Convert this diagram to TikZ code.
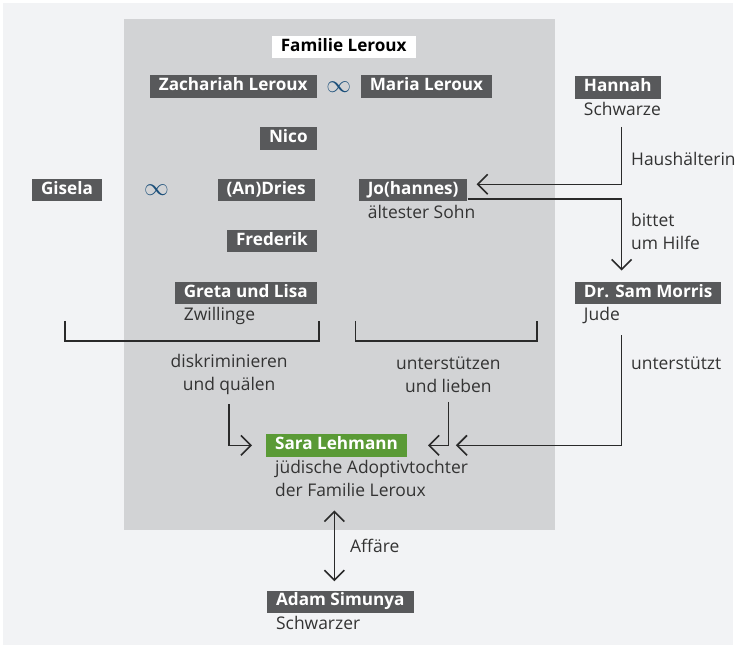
\documentclass[tikz,border=0pt]{standalone}
\usepackage{fontspec}
\setmainfont{Open Sans}
\usetikzlibrary{calc,arrows.meta}
\definecolor{pagebg}{HTML}{F2F3F5}
\definecolor{familybg}{HTML}{D2D3D5}
\definecolor{boxgray}{HTML}{58595B}
\definecolor{saragreen}{HTML}{5A9A36}
\definecolor{ringblue}{HTML}{1B4F7A}
\definecolor{linegray}{HTML}{2A2A2A}
\definecolor{notegray}{HTML}{333333}
\tikzset{x=1pt, y=-1pt,
  >={Straight Barb[length=10pt,width=20pt,line width=1.6pt]},
  member box/.style={fill=boxgray, text=white,
        font=\bfseries\fontsize{17.2}{20}\selectfont,
        inner xsep=9pt, inner ysep=3pt, text height=12.5pt, text depth=4pt},
  family box/.style={member box, fill=white, text=black},
  sara box/.style={member box, fill=saragreen},
  member note/.style={text=notegray, font=\fontsize{17.5}{23}\selectfont,
        align=left, inner xsep=9pt, inner ysep=3pt, anchor=north west},
  link label/.style={text=notegray, font=\fontsize{17.5}{23}\selectfont, align=left},
  marriage/.style={text=ringblue, font=\fontsize{24.88}{26}\selectfont, inner sep=0pt},
  link/.style={draw=linegray, line width=1.6pt, ->},
  both link/.style={draw=linegray, line width=1.6pt, <->},
  bracket/.style={draw=linegray, line width=1.6pt}
}

\begin{document}
\begin{tikzpicture}
\fill[white] (0,0) rectangle (739,650);
\fill[pagebg] (3,3) rectangle (736,647);
\fill[familybg] (124,19) rectangle (557,532);

% family Leroux
\node (Family) [family box] at (345,47) {Familie Leroux};
\node (Zachariah) [member box, anchor=east] at (318,87) {Zachariah Leroux};
\node (RingA) [marriage] at (340,87) {$\infty$};
\node (Maria) [member box, anchor=west] at (362,87) {Maria Leroux};
\node (Nico) [member box, anchor=east] at (318,139) {Nico};
\node (Gisela) [member box, anchor=west] at (32,191) {Gisela};
\node (RingB) [marriage] at (157,191) {$\infty$};
\node (Dries) [member box, anchor=east] at (316,191) {(An)Dries};
\node (Jo) [member box, anchor=west] at (360,191) {Jo(hannes)};
\node (JoNote) [member note] at (Jo.south west) {ältester Sohn};
\node (Frederik) [member box, anchor=east] at (318,242) {Frederik};
\node (Greta) [member box, anchor=east] at (318,294) {Greta und Lisa};
\node (GretaNote) [member note] at (Greta.south west) {Zwillinge};

% outside helpers
\node (Hannah) [member box, anchor=west] at (577,88) {Hannah};
\node (HannahNote) [member note] at (Hannah.south west) {Schwarze};
\node (Morris) [member box, anchor=west] at (577,294) {Dr. Sam Morris};
\node (MorrisNote) [member note] at (Morris.south west) {Jude};
\coordinate (Rail) at (624,0);

\draw[link, shorten <=8pt, shorten >=9pt] (HannahNote.south -| Rail) |- ([yshift=6pt]Jo.east);
\node (HannahLabel) [link label, anchor=west] at (630,160) {Haushälterin};
\draw[link, shorten >=11pt] ([yshift=-9pt]Jo.east) -| (Morris.north -| Rail);
\node (HelpLabel) [link label, anchor=west] at (630,232) {bittet\\um Hilfe};

% sides of the family
\coordinate (LeftA) at (65,322);
\coordinate (LeftB) at (320,322);
\coordinate (RightA) at (357,322);
\coordinate (RightB) at (539,322);
\draw[bracket] (LeftA) -- ++(0,20) -| (LeftB);
\draw[bracket] (RightA) -- ++(0,20) -| (RightB);
\node (Hate) [link label, align=center] at (230,376) {diskriminieren\\und quälen};
\node (Love) [link label, align=center] at (450,376) {unterstützen\\und lieben};

% Sara
\node (Sara) [sara box, anchor=west] at (267,447) {Sara Lehmann};
\node (SaraNote) [member note] at (Sara.south west) {jüdische Adoptivtochter\\der Familie Leroux};
\draw[link, shorten <=6pt, shorten >=14pt] (Hate.south) |- (Sara.west);
\draw[link, shorten <=6pt, shorten >=21pt] (Love.south) |- (Sara.east);
\draw[link, shorten <=8pt, shorten >=49pt] (MorrisNote.south -| Rail) |- (Sara.east);
\node (SupportLabel) [link label, anchor=west] at (630,365) {unterstützt};

% Adam
\node (Adam) [member box, anchor=west] at (268,604) {Adam Simunya};
\node (AdamNote) [member note] at (Adam.south west) {Schwarzer};
\draw[both link, shorten <=11pt, shorten >=9pt]
  ([xshift=-6pt]Adam.north |- SaraNote.south) -- ([xshift=-6pt]Adam.north);
\node (AffairLabel) [link label, anchor=west] at (348,548) {Affäre};
\end{tikzpicture}
\end{document}
